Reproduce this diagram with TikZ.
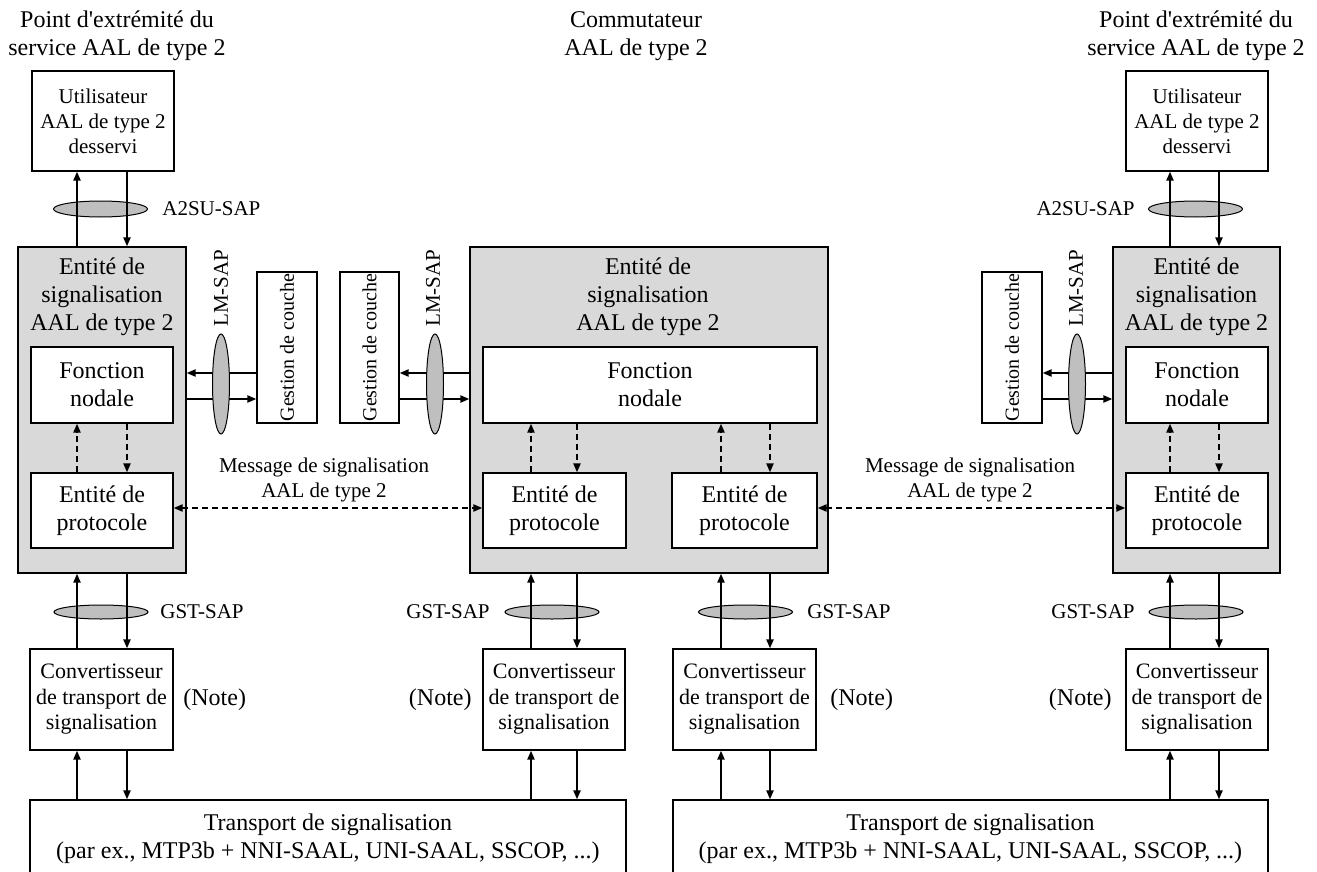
\documentclass[tikz,border=0pt]{standalone}
\usepackage{fontspec}
\setmainfont{Liberation Serif}
\usepackage{graphicx}
\usetikzlibrary{arrows.meta, shapes.geometric, positioning}

\definecolor{sigfill}{RGB}{217,217,217}
\definecolor{sapfill}{RGB}{191,191,191}

\newcommand\bigtxt{\fontsize{12}{14}\selectfont}
\newcommand\midtxt{\fontsize{11}{12.75}\selectfont}
\newcommand\smltxt{\fontsize{10.5}{12.5}\selectfont}
\newcommand\tnytxt{\fontsize{10}{12}\selectfont}

\tikzset{
  box/.style={draw, line width=0.7pt, fill=white, align=center, inner sep=0pt},
  sigent/.style={box, fill=sigfill},
  sap/.style={draw, ellipse, line width=0.5pt, fill=sapfill, inner sep=0pt},
  txt/.style={align=center, inner sep=0pt},
  link/.style={line width=0.9pt, ->},
  dlink/.style={link, dash pattern=on 3pt off 2pt}
}

\begin{document}
\begin{tikzpicture}[x=0.5pt, y=-0.5pt, >={Triangle[length=4.5pt, width=3.6pt]}]
  \useasboundingbox (0,0) rectangle (1317,872);

  % en-tetes
  \node[txt, font=\bigtxt] (hdrL) at (117,36) {Point d\textquotesingle extrémité du\\service AAL de type 2};
  \node[txt, font=\bigtxt] (hdrC) at (636,36) {Commutateur\\AAL de type 2};
  \node[txt, font=\bigtxt] (hdrR) at (1196,36) {Point d\textquotesingle extrémité du\\service AAL de type 2};

  % utilisateurs
  \node[box, font=\smltxt, minimum width=71pt, minimum height=50pt] (userL) at (103,121) {Utilisateur\\AAL de type 2\\desservi};
  \node[box, font=\smltxt, minimum width=71pt, minimum height=50pt] (userR) at (1197,121) {Utilisateur\\AAL de type 2\\desservi};
  \node[sap, minimum width=47pt, minimum height=8pt] (a2suL) at (100.5,209) {};
  \node[sap, minimum width=47pt, minimum height=8pt] (a2suR) at (1195.5,209) {};
  \node[txt, font=\smltxt, anchor=west] (a2suLt) at (162,209) {A2SU-SAP};
  \node[txt, font=\smltxt, anchor=east] (a2suRt) at (1135,209) {A2SU-SAP};

  % entites de signalisation
  \node[sigent, minimum width=84pt, minimum height=163pt] (sigL) at (102,410) {};
  \node[sigent, minimum width=179pt, minimum height=163pt] (sigC) at (649,410) {};
  \node[sigent, minimum width=83.5pt, minimum height=163pt] (sigR) at (1196.5,410) {};
  \node[txt, font=\bigtxt] (sigLt) at (102,297) {Entité de\\signalisation\\AAL de type 2};
  \node[txt, font=\bigtxt] (sigCt) at (648,297) {Entité de\\signalisation\\AAL de type 2};
  \node[txt, font=\bigtxt] (sigRt) at (1196.5,297) {Entité de\\signalisation\\AAL de type 2};

  \node[box, font=\bigtxt, minimum width=71pt, minimum height=38pt] (fnL) at (102,385) {Fonction\\nodale};
  \node[box, font=\bigtxt, minimum width=167pt, minimum height=38pt] (fnC) at (650,385) {Fonction\\nodale};
  \node[box, font=\bigtxt, minimum width=71pt, minimum height=38pt] (fnR) at (1197,385) {Fonction\\nodale};

  \node[box, font=\bigtxt, minimum width=71pt, minimum height=37.5pt] (protoL) at (102,510.5) {Entité de\\protocole};
  \node[box, font=\bigtxt, minimum width=71.5pt, minimum height=37.5pt] (protoCL) at (554.5,510.5) {Entité de\\protocole};
  \node[box, font=\bigtxt, minimum width=72.5pt, minimum height=37.5pt] (protoCR) at (744.5,510.5) {Entité de\\protocole};
  \node[box, font=\bigtxt, minimum width=71pt, minimum height=37.5pt] (protoR) at (1197,510.5) {Entité de\\protocole};

  % gestion de couche
  \node[box, font=\tnytxt, minimum width=30pt, minimum height=75.5pt] (gestL) at (287,347.5) {\rotatebox{90}{Gestion de couche}};
  \node[box, font=\tnytxt, minimum width=29.5pt, minimum height=75.5pt] (gestC) at (369.5,347.5) {\rotatebox{90}{Gestion de couche}};
  \node[box, font=\tnytxt, minimum width=30pt, minimum height=75.5pt] (gestR) at (1012,347.5) {\rotatebox{90}{Gestion de couche}};
  \node[txt, font=\smltxt, rotate=90] (lmLt) at (221,288) {LM-SAP};
  \node[txt, font=\smltxt, rotate=90] (lmCt) at (433,288) {LM-SAP};
  \node[txt, font=\smltxt, rotate=90] (lmRt) at (1076,288) {LM-SAP};

  \node[txt, font=\smltxt] (msgL) at (324,480) {Message de signalisation\\AAL de type 2};
  \node[txt, font=\smltxt] (msgR) at (970,480) {Message de signalisation\\AAL de type 2};

  % GST-SAP et convertisseurs
  \node[sap, minimum width=47pt, minimum height=7pt] (gstL) at (101,612) {};
  \node[sap, minimum width=47pt, minimum height=7pt] (gstCL) at (552,612) {};
  \node[sap, minimum width=47pt, minimum height=7pt] (gstCR) at (745.5,612) {};
  \node[sap, minimum width=47pt, minimum height=7pt] (gstR) at (1196,612) {};
  \node[txt, font=\smltxt, anchor=west] (gstLt) at (160,612) {GST-SAP};
  \node[txt, font=\smltxt, anchor=east] (gstCLt) at (490,612) {GST-SAP};
  \node[txt, font=\smltxt, anchor=west] (gstCRt) at (807,612) {GST-SAP};
  \node[txt, font=\smltxt, anchor=east] (gstRt) at (1135,612) {GST-SAP};

  \node[box, font=\midtxt, minimum width=71.5pt, minimum height=50.5pt] (convL) at (101.5,699.5) {Convertisseur\\de transport de\\signalisation};
  \node[box, font=\midtxt, minimum width=71pt, minimum height=50.5pt] (convCL) at (554,699.5) {Convertisseur\\de transport de\\signalisation};
  \node[box, font=\midtxt, minimum width=71.5pt, minimum height=50.5pt] (convCR) at (744.5,699.5) {Convertisseur\\de transport de\\signalisation};
  \node[box, font=\midtxt, minimum width=71pt, minimum height=50.5pt] (convR) at (1197,699.5) {Convertisseur\\de transport de\\signalisation};
  \node[txt, font=\bigtxt, anchor=west] (noteL) at (183,700) {(Note)};
  \node[txt, font=\bigtxt, anchor=east] (noteCL) at (472,700) {(Note)};
  \node[txt, font=\bigtxt, anchor=west] (noteCR) at (830,700) {(Note)};
  \node[txt, font=\bigtxt, anchor=east] (noteR) at (1112,700) {(Note)};

  \node[box, font=\bigtxt, minimum width=298pt, minimum height=39pt] (transL) at (328,839) {Transport de signalisation\\(par ex., MTP3b + NNI-SAAL, UNI-SAAL, SSCOP, ...)};
  \node[box, font=\bigtxt, minimum width=297.5pt, minimum height=39pt] (transR) at (970.5,839) {Transport de signalisation\\(par ex., MTP3b + NNI-SAAL, UNI-SAAL, SSCOP, ...)};

  % colonnes des fleches
  \coordinate (uL) at (77,0);   \coordinate (dL) at (127,0);
  \coordinate (uCL) at (531,0); \coordinate (dCL) at (577,0);
  \coordinate (uCR) at (721,0); \coordinate (dCR) at (770,0);
  \coordinate (uR) at (1170,0); \coordinate (dR) at (1219,0);

  \foreach \c/\hi/\lo in {L/userL/sigL, R/userR/sigR, L/sigL/convL, CL/sigC/convCL,
      CR/sigC/convCR, R/sigR/convR, L/convL/transL, CL/convCL/transL,
      CR/convCR/transR, R/convR/transR} {
    \draw[link] (\lo.north -| u\c) -- (\hi.south -| u\c);
    \draw[link] (\hi.south -| d\c) -- (\lo.north -| d\c);
  }
  \foreach \c/\hi/\lo in {L/fnL/protoL, CL/fnC/protoCL, CR/fnC/protoCR, R/fnR/protoR} {
    \draw[dlink] (\lo.north -| u\c) -- (\hi.south -| u\c);
    \draw[dlink] (\hi.south -| d\c) -- (\lo.north -| d\c);
  }

  % LM-SAP
  \coordinate (lmhi) at (0,373);
  \coordinate (lmlo) at (0,399);
  \draw[link] (gestL.west |- lmhi) -- (sigL.east |- lmhi);
  \draw[link] (sigL.east |- lmlo) -- (gestL.west |- lmlo);
  \draw[link] (sigC.west |- lmhi) -- (gestC.east |- lmhi);
  \draw[link] (gestC.east |- lmlo) -- (sigC.west |- lmlo);
  \draw[link] (sigR.west |- lmhi) -- (gestR.east |- lmhi);
  \draw[link] (gestR.east |- lmlo) -- (sigR.west |- lmlo);
  \node[sap, minimum width=8.5pt, minimum height=50pt] (lmL) at (221,384) {};
  \node[sap, minimum width=8.5pt, minimum height=50pt] (lmC) at (435,384) {};
  \node[sap, minimum width=8.5pt, minimum height=50pt] (lmR) at (1077,384) {};

  % message de signalisation
  \coordinate (msg) at (0,508);
  \draw[dlink, <->] (protoL.east |- msg) -- (protoCL.west |- msg);
  \draw[dlink, <->] (protoCR.east |- msg) -- (protoR.west |- msg);
\end{tikzpicture}
\end{document}
